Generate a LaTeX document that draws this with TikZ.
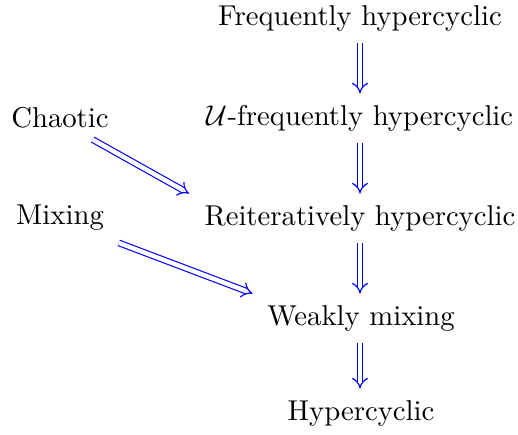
\documentclass[tikz,border=0pt]{standalone}
\usepackage{amsmath}
\usepackage{xcolor}
\usetikzlibrary{arrows}

\begin{document}
\begin{tikzpicture}[x=0.3484pt,y=-0.3484pt]
        \tikzset{imp/.style={double,double equal sign distance,-implies,blue}}
        \useasboundingbox (0,0) rectangle (518,435);
        % right column
        \node (freq)  at (360,18)  {Frequently hypercyclic};
        \node (ufreq) at (360,118) {$\mathcal{U}$-frequently hypercyclic};
        \node (reit)  at (360,218) {Reiteratively hypercyclic};
        \node (weak)  at (361,318) {Weakly mixing};
        \node (hyp)   at (361,413) {Hypercyclic};
        % left column
        \node (chaos) at (60,118)  {Chaotic};
        \node (mix)   at (60,218)  {Mixing};
        % implications
        \draw[imp] ([yshift=-0.7pt]freq.south)  -- ([yshift=0.5pt]ufreq.north);
        \draw[imp] ([yshift=-0.7pt]ufreq.south) -- ([yshift=0.5pt]reit.north);
        \draw[imp] ([yshift=-0.7pt]reit.south)  -- ([yshift=0.5pt]reit.south |- weak.north);
        \draw[imp] ([yshift=-0.7pt]weak.south -| reit.south) -- ([yshift=0.5pt]reit.south |- hyp.north);
        \draw[imp] ([xshift=-9.1pt,yshift=-0.35pt]chaos.south east) -- ([xshift=-1.9pt,yshift=0.5pt]reit.north west);
        \draw[imp] ([xshift=1.7pt,yshift=-0.7pt]mix.south east) -- ([xshift=-1.6pt,yshift=0.5pt]weak.north west);
\end{tikzpicture}
\end{document}
